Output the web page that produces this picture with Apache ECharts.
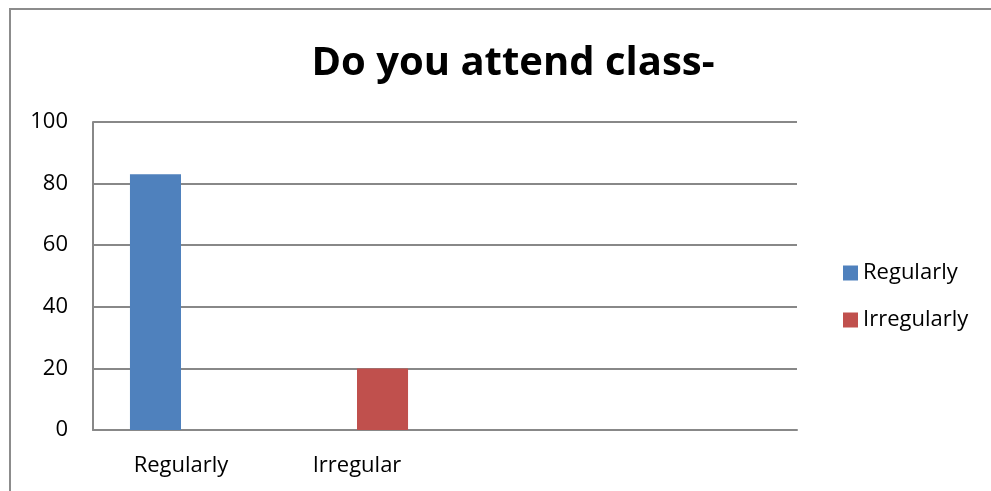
<!DOCTYPE html>
<html>
<head>
<meta charset="utf-8">
<script src="https://cdn.jsdelivr.net/npm/echarts@6/dist/echarts.min.js"></script>
<style>
html,body{margin:0;padding:0;background:#fff;}
#chart{width:991px;height:491px;}
</style>
</head>
<body>
<div id="chart"></div>
<script>
const titleText = 'Do you attend class-';
const categories = ['Regularly', 'Irregular', '', ''];
const seriesNames = ['Regularly', 'Irregularly'];
const regularlyValues = [83, null, null, null];
const irregularlyValues = [null, 20, null, null];
const yTicks = { min: 0, max: 100, interval: 20 };

const FONT = '"Open Sans", "Noto Sans", sans-serif';
const chart = echarts.init(document.getElementById('chart'));
chart.setOption({
  animation: false,
  backgroundColor: '#fff',
  graphic: [{
    type: 'rect',
    shape: { x: 10, y: 9, width: 1100, height: 600 },
    style: { fill: 'none', stroke: '#8c8c8c', lineWidth: 2 },
    silent: true
  }],
  title: {
    text: titleText,
    left: 508,
    top: 39,
    textAlign: 'center',
    textStyle: { fontFamily: FONT, fontWeight: 'bold', fontSize: 40, color: '#000' }
  },
  legend: {
    orient: 'vertical',
    left: 838,
    top: 257,
    itemWidth: 15,
    itemHeight: 15,
    itemGap: 25,
    icon: 'rect',
    data: seriesNames,
    textStyle: { fontFamily: FONT, fontSize: 22, color: '#000', padding: [0, 0, 0, 0] }
  },
  grid: { left: 93, top: 122, right: 194, bottom: 61, containLabel: false },
  xAxis: {
    type: 'category',
    data: categories,
    axisLine: { show: true, lineStyle: { color: '#888', width: 2 } },
    axisTick: { show: false },
    axisLabel: { fontFamily: FONT, fontSize: 22, color: '#000', margin: 25, interval: 0 },
    splitLine: { show: false }
  },
  yAxis: {
    type: 'value',
    min: yTicks.min,
    max: yTicks.max,
    interval: yTicks.interval,
    axisLine: { show: true, lineStyle: { color: '#888', width: 2 } },
    axisTick: { show: false },
    axisLabel: { fontFamily: FONT, fontSize: 22, color: '#000', margin: 25 },
    splitLine: { show: true, lineStyle: { color: '#888', width: 2 } }
  },
  series: [
    {
      name: seriesNames[0], type: 'bar', data: regularlyValues,
      itemStyle: { color: '#4F81BD' }, barGap: '0%', barCategoryGap: '42%'
    },
    {
      name: seriesNames[1], type: 'bar', data: irregularlyValues,
      itemStyle: { color: '#C0504D' }, barGap: '0%', barCategoryGap: '42%'
    }
  ]
});
</script>
</body>
</html>
